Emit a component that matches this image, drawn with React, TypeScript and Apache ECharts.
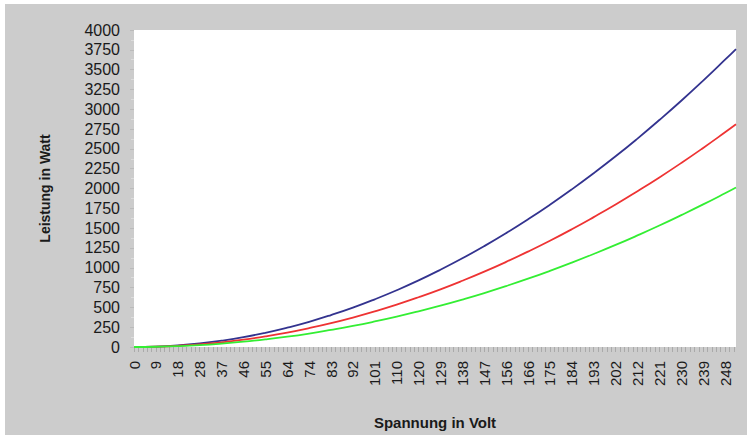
import React, { useEffect, useRef } from "react";
import * as echarts from "echarts";

// x tick labels (Spannung in Volt), one every 10 categories
const tickLabels = ["0","9","18","28","37","46","55","64","74","83","92","101","110","120","129","138","147","156","166","175","184","193","202","212","221","230","239","248"];
const categoryCount = 276;
// category indices where values were read
const sampleIdx = [0,10,20,30,40,50,60,70,80,90,100,110,120,130,140,150,160,170,180,190,200,210,220,230,240,250,260,270,275];
const blueValues = [0,5,20,45,80,124,179,244,318,403,497,602,716,840,975,1119,1273,1437,1611,1795,1989,2193,2406,2630,2864,3107,3361,3625,3760];
const redValues = [0,4,15,33,59,93,134,182,238,301,372,450,535,628,728,836,951,1074,1204,1341,1486,1639,1798,1966,2140,2322,2512,2709,2810];
const greenValues = [0,3,11,24,43,67,96,130,170,216,266,322,383,450,522,599,681,769,862,961,1065,1174,1288,1408,1533,1664,1799,1940,2013];

export default function App() {
  const ref = useRef<HTMLDivElement>(null);
  useEffect(() => {
    document.body.style.margin = "0";
    if (!ref.current) return;
    const chart = echarts.init(ref.current, null, { renderer: "svg" });
    const categories: string[] = [];
    for (let i = 0; i < categoryCount; i++) {
      categories.push(i % 10 === 0 && i / 10 < tickLabels.length ? tickLabels[i / 10] : "");
    }
    const mk = (vals: number[]) => sampleIdx.map((i, k) => [i, vals[k]]);
    const font = "'Liberation Sans', Arial, sans-serif";
    chart.setOption({
      animation: false,
      backgroundColor: "#cccccc",
      grid: {
        left: 129, top: 26, right: 11, bottom: 88,
        show: true, backgroundColor: "#ffffff", borderWidth: 0,
      },
      xAxis: {
        type: "category",
        data: categories,
        boundaryGap: false,
        name: "Spannung in Volt",
        nameLocation: "middle",
        nameGap: 68,
        nameTextStyle: { fontFamily: font, fontSize: 15, fontWeight: "bold", color: "#1a1a1a" },
        axisLine: { show: false },
        axisTick: { show: true, interval: 1, length: 5, lineStyle: { color: "#aaaaaa" } },
        axisLabel: { interval: 9, rotate: 90, margin: 14, fontFamily: font, fontSize: 15, color: "#1a1a1a" },
        splitLine: { show: false },
      },
      yAxis: {
        type: "value",
        min: 0, max: 4000, interval: 250,
        name: "Leistung in Watt",
        nameLocation: "middle",
        nameGap: 82,
        nameTextStyle: { fontFamily: font, fontSize: 14, fontWeight: "bold", color: "#1a1a1a" },
        axisLine: { show: false },
        axisTick: { show: true, length: 4, lineStyle: { color: "#bbbbbb" } },
        minorTick: { show: true, splitNumber: 2, length: 3, lineStyle: { color: "#dddddd" } },
        axisLabel: { margin: 14, fontFamily: font, fontSize: 16, color: "#1a1a1a", formatter: (v: number) => String(v) },
        splitLine: { show: false },
      },
      series: [
        { type: "line", data: mk(blueValues), smooth: true, showSymbol: false, lineStyle: { color: "#33338f", width: 1.8 } },
        { type: "line", data: mk(redValues), smooth: true, showSymbol: false, lineStyle: { color: "#ee3333", width: 1.8 } },
        { type: "line", data: mk(greenValues), smooth: true, showSymbol: false, lineStyle: { color: "#33ee33", width: 1.8 } },
      ],
    });
    return () => chart.dispose();
  }, []);
  return (
    <div style={{ width: 747, height: 435, background: "#ffffff", position: "relative" }}>
      <div ref={ref} style={{ position: "absolute", left: 5, top: 4, width: 742, height: 431 }} />
    </div>
  );
}
